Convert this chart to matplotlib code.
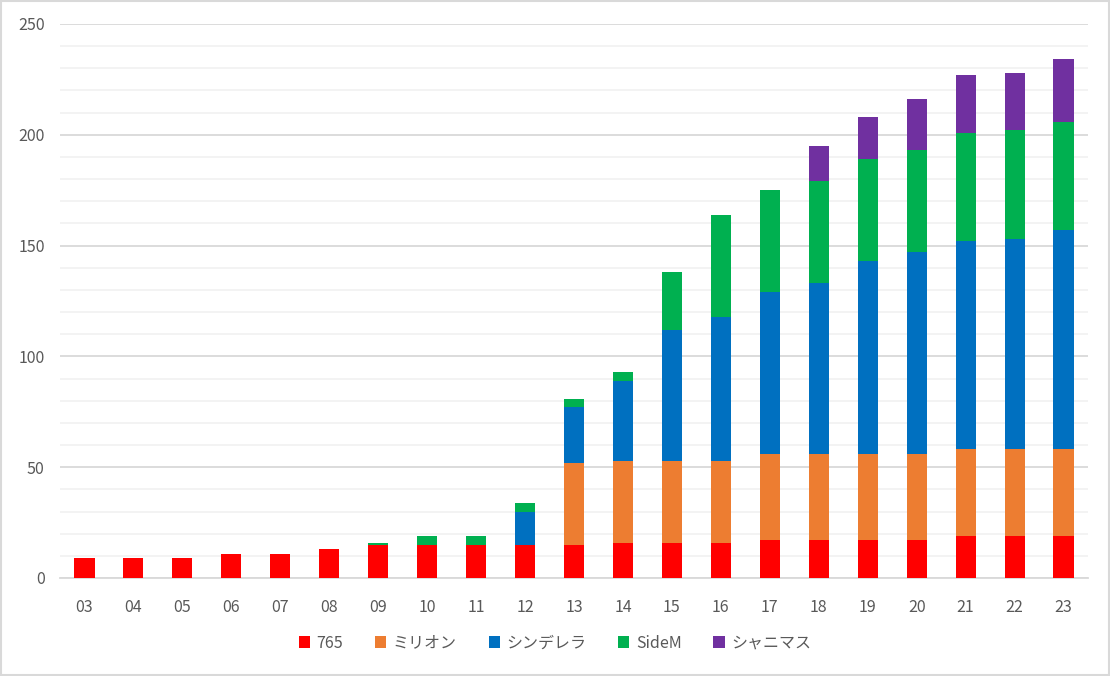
import numpy as np
import matplotlib.pyplot as plt
from matplotlib.patches import Rectangle

plt.rcParams['font.family'] = ['Noto Sans CJK JP', 'DejaVu Sans']

years = ['03', '04', '05', '06', '07', '08', '09', '10', '11', '12', '13',
         '14', '15', '16', '17', '18', '19', '20', '21', '22', '23']
s765 = [9, 9, 9, 11, 11, 13, 15, 15, 15, 15, 15, 16, 16, 16, 17, 17, 17, 17, 19, 19, 19]
million = [0, 0, 0, 0, 0, 0, 0, 0, 0, 0, 37, 37, 37, 37, 39, 39, 39, 39, 39, 39, 39]
cinderella = [0, 0, 0, 0, 0, 0, 0, 0, 0, 15, 25, 36, 59, 65, 73, 77, 87, 91, 94, 95, 99]
sidem = [0, 0, 0, 0, 0, 0, 1, 4, 4, 4, 4, 4, 26, 46, 46, 46, 46, 46, 49, 49, 49]
shiny = [0, 0, 0, 0, 0, 0, 0, 0, 0, 0, 0, 0, 0, 0, 0, 16, 19, 23, 26, 26, 28]

names = ['765', 'ミリオン', 'シンデレラ', 'SideM', 'シャニマス']
colors = ['#FF0000', '#ED7D31', '#0070C0', '#00B050', '#7030A0']
series = [s765, million, cinderella, sidem, shiny]

fig = plt.figure(figsize=(11.1, 6.76), dpi=100)
ax = fig.add_axes([60/1110, 98/676, 1028/1110, 554/676])

x = np.arange(len(years))
bottom = np.zeros(len(years))
for vals, name, c in zip(series, names, colors):
    ax.bar(x, vals, 0.41, bottom=bottom, color=c, label=name, zorder=3)
    bottom += np.array(vals)

ax.set_xlim(-0.5, len(years) - 0.5)
ax.set_ylim(0, 250)
ax.set_yticks(np.arange(0, 251, 50))
ax.set_yticks(np.arange(0, 251, 10), minor=True)
ax.grid(axis='y', which='minor', color='#f2f2f2', lw=1.3, zorder=0)
ax.grid(axis='y', which='major', color='#d9d9d9', lw=1.3, zorder=1)
ax.set_xticks(x)
ax.set_xticklabels(years)
for s in ['top', 'right', 'left']:
    ax.spines[s].set_visible(False)
ax.spines['bottom'].set_color('#d9d9d9')
ax.spines['bottom'].set_linewidth(1.3)
ax.tick_params(axis='both', which='both', length=0, labelsize=11.5, labelcolor='#595959')
ax.tick_params(axis='x', pad=15)
ax.tick_params(axis='y', pad=11)

fig.legend(loc='center', bbox_to_anchor=(0.5, 33/676), ncol=5, frameon=False,
           fontsize=11.5, labelcolor='#595959', handlelength=0.7, handleheight=0.7,
           handletextpad=0.4, columnspacing=2.0)

fig.patches.append(Rectangle((0.001, 0.001), 0.998, 0.998, transform=fig.transFigure,
                             fill=False, edgecolor='#d9d9d9', lw=1.5))

fig.savefig('out.png', dpi=100)
